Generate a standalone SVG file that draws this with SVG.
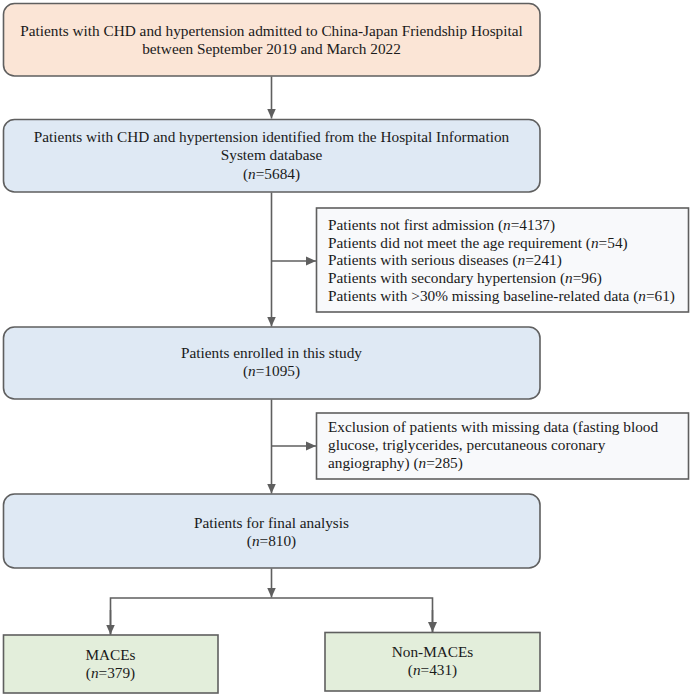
<svg xmlns="http://www.w3.org/2000/svg" width="691" height="697" viewBox="0 0 691 697">
<style>
text{font-family:"Liberation Serif","Times New Roman",serif;font-size:15.3px;fill:#1a1a1a}
.c{text-anchor:middle}
.i{font-style:italic}
.box{stroke:#5f5f5f;stroke-width:1.6}
.peach{fill:#fbe5d6}
.blue{fill:#dfe9f4}
.green{fill:#e3eedb}
.excl{fill:#f8f9fb}
.con{fill:none;stroke:#5f5f5f;stroke-width:1.6}
</style>
<defs>
<marker id="ah" markerUnits="userSpaceOnUse" markerWidth="10" markerHeight="10" viewBox="0 0 10 10" refX="10" refY="5" orient="auto">
<path d="M0,0.5 L10,5 L0,9.5 Z" fill="#5f5f5f"/>
</marker>
</defs>
<g id="connectors">
<line class="con" x1="271.5" y1="76.5" x2="271.5" y2="118.5" marker-end="url(#ah)"/>
<line class="con" x1="271.5" y1="192.5" x2="271.5" y2="326.5" marker-end="url(#ah)"/>
<line class="con" x1="271.5" y1="261" x2="316" y2="261" marker-end="url(#ah)"/>
<line class="con" x1="271.5" y1="399.5" x2="271.5" y2="493.5" marker-end="url(#ah)"/>
<line class="con" x1="271.5" y1="446" x2="316" y2="446" marker-end="url(#ah)"/>
<line class="con" x1="271.5" y1="568.5" x2="271.5" y2="597.5" marker-end="url(#ah)"/>
<polyline class="con" points="110.5,634.5 110.5,598 432.5,598 432.5,632"/>
<line class="con" x1="110.5" y1="610" x2="110.5" y2="634.5" marker-end="url(#ah)"/>
<line class="con" x1="432.5" y1="610" x2="432.5" y2="632" marker-end="url(#ah)"/>
</g>
<g id="n1">
<rect class="box peach" x="3.5" y="3.5" width="536.5" height="72.5" rx="11"/>
<text class="c" x="271.5" y="36">Patients with CHD and hypertension admitted to China-Japan Friendship Hospital</text>
<text class="c" x="271.5" y="54.3">between September 2019 and March 2022</text>
</g>
<g id="n2">
<rect class="box blue" x="3.5" y="119.5" width="536.5" height="72.5" rx="11"/>
<text class="c" x="271.5" y="142">Patients with CHD and hypertension identified from the Hospital Information</text>
<text class="c" x="271.5" y="160.3">System database</text>
<text class="c" x="271.5" y="178.6">(<tspan class="i">n</tspan>=5684)</text>
</g>
<g id="excl1">
<rect class="box excl" x="316.5" y="208" width="372" height="104"/>
<text x="328" y="230">Patients not first admission (<tspan class="i">n</tspan>=4137)</text>
<text x="328" y="247.7">Patients did not meet the age requirement (<tspan class="i">n</tspan>=54)</text>
<text x="328" y="265.4">Patients with serious diseases (<tspan class="i">n</tspan>=241)</text>
<text x="328" y="283.1">Patients with secondary hypertension (<tspan class="i">n</tspan>=96)</text>
<text x="328" y="300.8">Patients with &gt;30% missing baseline-related data (<tspan class="i">n</tspan>=61)</text>
</g>
<g id="n3">
<rect class="box blue" x="3.5" y="327" width="536.5" height="72" rx="11"/>
<text class="c" x="271.5" y="358">Patients enrolled in this study</text>
<text class="c" x="271.5" y="376.3">(<tspan class="i">n</tspan>=1095)</text>
</g>
<g id="excl2">
<rect class="box excl" x="316.5" y="413" width="372" height="66"/>
<text x="328" y="431.7">Exclusion of patients with missing data (fasting blood</text>
<text x="328" y="450">glucose, triglycerides, percutaneous coronary</text>
<text x="328" y="468.3">angiography) (<tspan class="i">n</tspan>=285)</text>
</g>
<g id="n4">
<rect class="box blue" x="3.5" y="494" width="536.5" height="74" rx="11"/>
<text class="c" x="271.5" y="527.5">Patients for final analysis</text>
<text class="c" x="271.5" y="546">(<tspan class="i">n</tspan>=810)</text>
</g>
<g id="maces">
<rect class="box green" x="3.5" y="635" width="214.5" height="58"/>
<text class="c" x="110.5" y="660">MACEs</text>
<text class="c" x="110.5" y="678.3">(<tspan class="i">n</tspan>=379)</text>
</g>
<g id="nonmaces">
<rect class="box green" x="325" y="632.5" width="215" height="58.5"/>
<text class="c" x="432.5" y="657">Non-MACEs</text>
<text class="c" x="432.5" y="675.3">(<tspan class="i">n</tspan>=431)</text>
</g>
</svg>
